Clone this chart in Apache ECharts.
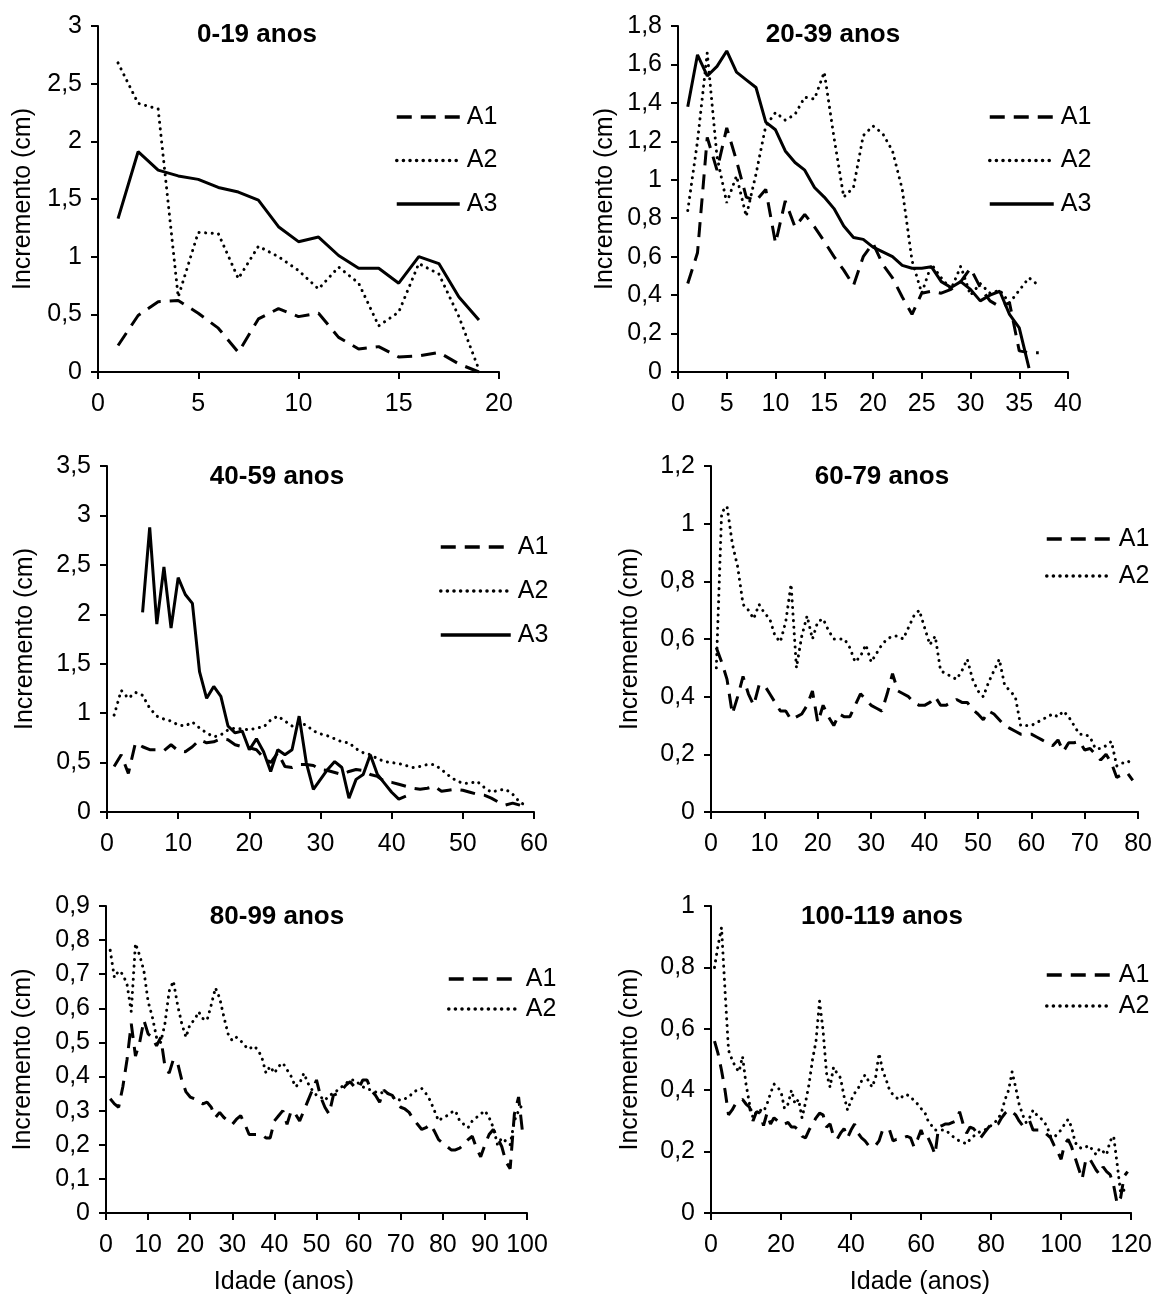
<!DOCTYPE html>
<html>
<head>
<meta charset="utf-8">
<title>Incremento por classe de idade</title>
<script src="https://cdn.jsdelivr.net/npm/echarts@6/dist/echarts.min.js"></script>
<style>
  html, body { margin: 0; padding: 0; background: #fff; }
  #chart { width: 1155px; height: 1297px; }
</style>
</head>
<body>
<div id="chart"></div>
<script>
// ---- data: increment (cm) by age (anos), one array per series; first age given separately ----
const titles = ['0-19 anos', '20-39 anos', '40-59 anos', '60-79 anos', '80-99 anos', '100-119 anos'];

// 0-19 anos
const p1A1 = [0.23,0.49,0.61,0.62,0.51,0.38,0.17,0.46,0.55,0.48,0.51,0.30,0.20,0.22,0.13,0.14,0.17,0.07,0.0];
const p1A2 = [2.68,2.33,2.28,0.65,1.21,1.20,0.81,1.09,1.00,0.88,0.72,0.91,0.77,0.40,0.52,0.94,0.85,0.48,0.02];
const p1A3 = [1.33,1.91,1.75,1.70,1.67,1.60,1.56,1.49,1.26,1.13,1.17,1.01,0.90,0.90,0.77,1.00,0.94,0.65,0.45];

// 20-39 anos
const p2A1 = [0.46,0.62,1.22,1.05,1.27,1.10,0.91,0.89,0.95,0.67, 0.89,0.755,0.82,0.755,0.68,0.60,0.53,0.45,0.60,0.67,
  0.56,0.49,0.39,0.30,0.41,0.42,0.41,0.43,0.47,0.54, 0.44,0.37,0.34,0.36,0.11,0.10,0.10];
const p2A2 = [0.84,1.20,1.66,1.12,0.88,1.02,0.81,1.03,1.28,1.35, 1.31,1.34,1.43,1.42,1.56,1.22,0.91,0.96,1.23,1.28,
  1.24,1.15,0.95,0.58,0.41,0.56,0.49,0.43,0.55,0.40, 0.46,0.41,0.425,0.36,0.425,0.49,0.45];
const p2A3 = [1.38,1.65,1.54,1.59,1.67,1.56,1.52,1.48,1.30,1.26, 1.15,1.09,1.05,0.96,0.91,0.85,0.76,0.70,0.69,0.65,
  0.625,0.60,0.555,0.54,0.54,0.547,0.47,0.44,0.47,0.43, 0.37,0.40,0.42,0.30,0.23,0.02];

// 40-59 anos
const p3A1 = [0.46,0.58,0.39,0.70,0.66,0.63,0.63,0.62,0.68,0.62, 0.61,0.66,0.73,0.70,0.71,0.74,0.73,0.68,0.66,0.65,
  0.63,0.55,0.50,0.60,0.46,0.45,0.48,0.48,0.47,0.43, 0.42,0.40,0.38,0.41,0.43,0.42,0.38,0.36,0.31,0.30,
  0.28,0.26,0.24,0.23,0.24,0.26,0.21,0.22,0.23,0.22, 0.20,0.18,0.17,0.14,0.10,0.07,0.09,0.07,0.04];
const p3A2 = [0.98,1.23,1.15,1.21,1.18,1.05,0.97,0.94,0.92,0.88, 0.87,0.91,0.85,0.80,0.76,0.78,0.83,0.85,0.84,0.83,
  0.85,0.86,0.93,0.97,0.92,0.87,0.90,0.88,0.82,0.79, 0.77,0.74,0.71,0.70,0.64,0.60,0.58,0.54,0.51,0.50,
  0.49,0.47,0.45,0.46,0.48,0.48,0.43,0.37,0.32,0.29, 0.29,0.31,0.25,0.20,0.22,0.23,0.18,0.10,0.06];
const p3A3Start = 5;
const p3A3 = [2.02,2.88,1.90,2.48,1.86,2.37,2.20,2.11,1.42,1.15, 1.27,1.17,0.87,0.80,0.82,0.63,0.74,0.61,0.41,0.63,
  0.58,0.63,0.97,0.50,0.23,0.33,0.43,0.51,0.45,0.14, 0.33,0.38,0.58,0.38,0.29,0.20,0.13,0.16];

// 60-79 anos
const p4A1 = [0.57,0.52,0.46,0.34,0.40,0.47,0.41,0.37,0.44,0.44, 0.41,0.38,0.35,0.35,0.32,0.33,0.34,0.37,0.42,0.31,
  0.37,0.33,0.30,0.34,0.33,0.33,0.37,0.41,0.39,0.37, 0.36,0.35,0.41,0.48,0.42,0.41,0.40,0.38,0.37,0.37,
  0.38,0.40,0.37,0.37,0.38,0.39,0.38,0.38,0.355,0.34, 0.32,0.35,0.34,0.32,0.30,0.29,0.28,0.27,0.27,0.27,
  0.26,0.25,0.24,0.23,0.25,0.21,0.24,0.24,0.245,0.215, 0.22,0.20,0.18,0.20,0.17,0.12,0.13,0.135,0.11];
const p4A2 = [0.50,1.04,1.06,0.93,0.85,0.72,0.70,0.67,0.72,0.69, 0.67,0.61,0.59,0.66,0.79,0.50,0.61,0.68,0.60,0.66,
  0.67,0.63,0.60,0.60,0.60,0.57,0.52,0.54,0.58,0.52, 0.55,0.58,0.60,0.61,0.61,0.60,0.64,0.68,0.70,0.64,
  0.58,0.61,0.49,0.48,0.47,0.46,0.49,0.53,0.46,0.42, 0.40,0.45,0.49,0.53,0.44,0.42,0.40,0.30,0.30,0.30,
  0.31,0.32,0.33,0.34,0.33,0.35,0.33,0.30,0.27,0.27, 0.26,0.22,0.22,0.23,0.245,0.16,0.17,0.17,0.19];

// 80-99 anos
const p5A1 = [0.335,0.32,0.31,0.37,0.45,0.555,0.46,0.50,0.565,0.525, 0.515,0.49,0.515,0.43,0.41,0.45,0.44,0.39,0.355,0.34,
  0.335,0.325,0.32,0.325,0.31,0.28,0.295,0.28,0.27,0.26, 0.275,0.285,0.26,0.23,0.23,0.23,0.23,0.22,0.22,0.27,
  0.285,0.30,0.26,0.30,0.29,0.27,0.30,0.33,0.36,0.39, 0.34,0.31,0.29,0.345,0.35,0.36,0.375,0.385,0.37,0.365,
  0.39,0.39,0.36,0.345,0.325,0.36,0.35,0.345,0.325,0.31, 0.305,0.295,0.275,0.26,0.245,0.25,0.26,0.24,0.215,0.205,
  0.195,0.185,0.185,0.19,0.20,0.215,0.225,0.19,0.165,0.20, 0.23,0.245,0.22,0.195,0.15,0.13,0.29,0.34,0.23];
const p5A2 = [0.77,0.69,0.71,0.70,0.67,0.59,0.79,0.755,0.71,0.62, 0.575,0.515,0.50,0.555,0.65,0.68,0.61,0.555,0.515,0.555,
  0.565,0.59,0.57,0.565,0.61,0.66,0.63,0.575,0.525,0.505, 0.515,0.505,0.49,0.48,0.49,0.48,0.457,0.41,0.43,0.41,
  0.43,0.44,0.42,0.40,0.37,0.38,0.41,0.38,0.36,0.345, 0.34,0.33,0.345,0.35,0.36,0.37,0.38,0.39,0.39,0.38,
  0.37,0.365,0.36,0.355,0.35,0.355,0.35,0.34,0.335,0.33, 0.335,0.34,0.355,0.36,0.365,0.35,0.33,0.30,0.27,0.28,
  0.285,0.295,0.30,0.27,0.26,0.25,0.27,0.28,0.29,0.30, 0.28,0.25,0.20,0.22,0.21,0.20,0.27,0.30,0.32];

// 100-119 anos
const p6A1 = [0.56,0.52,0.465,0.40,0.32,0.335,0.355,0.365,0.37,0.355, 0.345,0.30,0.33,0.325,0.285,0.325,0.29,0.31,0.30,0.30,
  0.29,0.295,0.28,0.28,0.27,0.25,0.245,0.27,0.29,0.31, 0.325,0.32,0.28,0.29,0.25,0.24,0.26,0.275,0.245,0.27,
  0.29,0.26,0.245,0.235,0.22,0.225,0.22,0.235,0.27,0.265, 0.27,0.235,0.24,0.24,0.245,0.25,0.245,0.215,0.24,0.27,
  0.24,0.245,0.22,0.19,0.28,0.285,0.29,0.29,0.295,0.30, 0.33,0.29,0.26,0.28,0.275,0.26,0.245,0.26,0.275,0.29,
  0.285,0.29,0.31,0.325,0.335,0.33,0.32,0.30,0.285,0.29, 0.30,0.27,0.27,0.27,0.265,0.255,0.245,0.22,0.20,0.175,
  0.225,0.24,0.215,0.18,0.145,0.11,0.17,0.18,0.16,0.14, 0.125,0.15,0.135,0.125,0.09,0.03,0.05,0.12,0.135];
const p6A2 = [0.80,0.87,0.93,0.725,0.53,0.50,0.475,0.46,0.51,0.42, 0.355,0.31,0.33,0.335,0.33,0.355,0.39,0.42,0.41,0.395,
  0.34,0.355,0.40,0.355,0.37,0.31,0.36,0.42,0.50,0.56, 0.69,0.595,0.455,0.41,0.475,0.455,0.44,0.38,0.335,0.367,
  0.39,0.405,0.43,0.45,0.43,0.41,0.44,0.52,0.465,0.435, 0.40,0.385,0.375,0.37,0.385,0.385,0.38,0.365,0.355,0.34,
  0.33,0.30,0.285,0.27,0.27,0.27,0.27,0.26,0.25,0.24, 0.235,0.23,0.225,0.24,0.25,0.26,0.265,0.27,0.275,0.285,
  0.295,0.305,0.33,0.37,0.40,0.46,0.41,0.355,0.32,0.295, 0.31,0.335,0.32,0.31,0.30,0.28,0.25,0.245,0.26,0.27,
  0.29,0.305,0.28,0.23,0.215,0.21,0.215,0.22,0.205,0.19, 0.21,0.20,0.19,0.235,0.25,0.16,0.065,0.075];

// axis ranges per panel
const xMax = [20, 40, 60, 80, 100, 120];
const xStep = [5, 5, 10, 10, 10, 20];
const yMax = [3, 1.8, 3.5, 1.2, 0.9, 1];
const yStep = [0.5, 0.2, 0.5, 0.2, 0.1, 0.2];

// ---- layout ----
const FONT = 'Arial, "Liberation Sans", sans-serif';
const grids = [
  { left: 98,  top: 26,  width: 401, height: 346 },
  { left: 678, top: 26,  width: 390, height: 346 },
  { left: 107, top: 466, width: 427, height: 346 },
  { left: 711, top: 466, width: 428, height: 346 },
  { left: 106, top: 906, width: 421, height: 307 },
  { left: 711, top: 906, width: 421, height: 307 }
];
const titlePos = [[257, 22], [833, 22], [277, 464], [882, 464], [277, 904], [882, 904]];
const nameGaps = [62, 60, 69, 68, 70, 68];
// legend: left, top, itemWidth, itemGap
const legendPos = [[395, 104.5, 63, 18.5], [988, 104.5, 64, 18.5], [439, 534.5, 70, 19],
                   [1045, 526.5, 65, 12], [447, 966.5, 70, 5], [1045, 962.5, 65, 6]];

const styleA1 = { color: '#000', width: 3, type: [15, 9] };
const styleA2 = { color: '#000', width: 3, type: [0.1, 6.5], cap: 'round' };
const styleA3 = { color: '#000', width: 3, type: 'solid' };

function pairs(values, start) {
  return values.map((v, i) => [start + i, v]);
}

const panelSeries = [
  [['A1', p1A1, 1, styleA1], ['A2', p1A2, 1, styleA2], ['A3', p1A3, 1, styleA3]],
  [['A1', p2A1, 1, styleA1], ['A2', p2A2, 1, styleA2], ['A3', p2A3, 1, styleA3]],
  [['A1', p3A1, 1, styleA1], ['A2', p3A2, 1, styleA2], ['A3', p3A3, p3A3Start, styleA3]],
  [['A1', p4A1, 1, styleA1], ['A2', p4A2, 1, styleA2]],
  [['A1', p5A1, 1, styleA1], ['A2', p5A2, 1, styleA2]],
  [['A1', p6A1, 1, styleA1], ['A2', p6A2, 1, styleA2]]
];

const chart = echarts.init(document.getElementById('chart'), null, { renderer: 'canvas' });

const grid = [], xAxis = [], yAxis = [], series = [], legend = [], title = [];
const axisLineStyle = { color: '#000', width: 2 };
const labelStyle = { color: '#000', fontSize: 25, fontFamily: FONT };

for (let p = 0; p < 6; p++) {
  grid.push(grids[p]);
  xAxis.push({
    type: 'value', gridIndex: p, min: 0, max: xMax[p], interval: xStep[p],
    splitLine: { show: false },
    axisLine: { lineStyle: axisLineStyle },
    axisTick: { length: 7, lineStyle: axisLineStyle },
    axisLabel: Object.assign({ margin: 20 }, labelStyle)
  });
  yAxis.push({
    type: 'value', gridIndex: p, min: 0, max: yMax[p], interval: yStep[p],
    splitLine: { show: false },
    axisLine: { show: true, lineStyle: axisLineStyle },
    axisTick: { show: true, length: 7, lineStyle: axisLineStyle },
    axisLabel: Object.assign({
      margin: 16,
      formatter: v => String(+v.toFixed(2)).replace('.', ',')
    }, labelStyle),
    name: 'Incremento (cm)',
    nameLocation: 'middle',
    nameGap: nameGaps[p],
    nameTextStyle: labelStyle
  });
  const names = [];
  panelSeries[p].forEach(([name, values, start, ls]) => {
    names.push(name);
    series.push({
      name: name, type: 'line', xAxisIndex: p, yAxisIndex: p,
      data: pairs(values, start),
      symbol: 'none', showSymbol: false,
      lineStyle: ls,
      itemStyle: { color: '#000' },
      z: name === 'A3' ? 3 : 2
    });
  });
  const lp = legendPos[p];
  legend.push({
    data: names, orient: 'vertical', left: lp[0], top: lp[1],
    itemWidth: lp[2], itemHeight: 14, itemGap: lp[3], padding: 0,
    selectedMode: false,
    itemStyle: { opacity: 0 },
    lineStyle: { width: 3.5, opacity: 1 },
    textStyle: { color: '#000', fontSize: 25, fontFamily: FONT, lineHeight: 25, padding: [0, 0, 0, 2] }
  });
  title.push({
    text: titles[p], left: titlePos[p][0], top: titlePos[p][1], textAlign: 'center', padding: 0,
    textStyle: { color: '#000', fontSize: 26, fontWeight: 'bold', fontFamily: FONT }
  });
}

// x axis titles under the bottom row
title.push({ text: 'Idade (anos)', left: 284, top: 1270, textAlign: 'center', padding: 0,
  textStyle: { color: '#000', fontSize: 25, fontWeight: 'normal', fontFamily: FONT } });
title.push({ text: 'Idade (anos)', left: 920, top: 1270, textAlign: 'center', padding: 0,
  textStyle: { color: '#000', fontSize: 25, fontWeight: 'normal', fontFamily: FONT } });

chart.setOption({
  animation: false,
  backgroundColor: '#fff',
  title: title,
  legend: legend,
  grid: grid,
  xAxis: xAxis,
  yAxis: yAxis,
  series: series
});
</script>
</body>
</html>
